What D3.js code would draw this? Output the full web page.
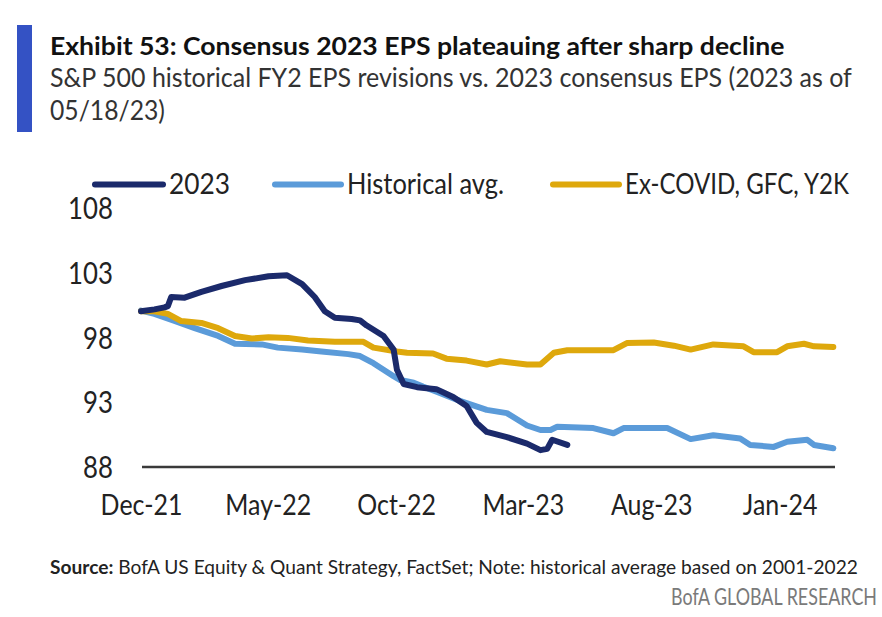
<!DOCTYPE html>
<html>
<head>
<meta charset="utf-8">
<script src="https://cdn.jsdelivr.net/npm/d3@7"></script>
<style>
  html, body { margin: 0; padding: 0; background: #fff; }
  svg { display: block; font-family: Lato, "Open Sans", "DejaVu Sans", sans-serif; }
</style>
</head>
<body>
<svg id="chart" width="882" height="617"></svg>
<script>
// ---------- data ----------
const seriesNames = ["2023", "Historical avg.", "Ex-COVID, GFC, Y2K"];

const dates2023 = ["2021-12-01","2021-12-17","2021-12-29","2022-01-02","2022-01-06","2022-01-22","2022-02-11","2022-03-07","2022-04-04","2022-05-02","2022-05-24","2022-06-11","2022-06-26","2022-07-08","2022-07-20","2022-08-09","2022-08-19","2022-08-27","2022-09-16","2022-09-28","2022-10-02","2022-10-10","2022-10-26","2022-11-18","2022-12-08","2022-12-24","2023-01-05","2023-01-17","2023-02-10","2023-03-06","2023-03-22","2023-03-30","2023-04-05","2023-04-23"];
const values2023 = [100.0,100.15,100.3,100.4,101.1,101.05,101.5,101.95,102.4,102.7,102.78,102.1,101.1,100.0,99.5,99.4,99.3,98.9,98.1,97.05,95.5,94.4,94.15,94.0,93.4,92.7,91.4,90.7,90.3,89.8,89.3,89.4,90.1,89.7];

const datesHist = ["2021-12-01","2021-12-17","2022-01-10","2022-02-03","2022-03-03","2022-03-23","2022-04-24","2022-05-13","2022-06-11","2022-07-04","2022-08-05","2022-08-19","2022-09-04","2022-09-16","2022-09-28","2022-10-06","2022-10-22","2022-11-02","2022-11-22","2022-12-16","2023-01-17","2023-02-10","2023-03-06","2023-03-22","2023-04-03","2023-04-11","2023-05-24","2023-06-17","2023-06-29","2023-08-20","2023-09-17","2023-10-14","2023-11-15","2023-11-27","2023-12-25","2024-01-10","2024-02-03","2024-02-11","2024-03-05"];
const valuesHist = [100.05,99.8,99.25,98.7,98.1,97.5,97.45,97.2,97.05,96.9,96.7,96.55,96.0,95.5,95.0,94.7,94.5,94.2,93.7,93.1,92.4,92.15,91.2,90.85,90.85,91.1,91.0,90.6,91.0,91.0,90.15,90.45,90.2,89.7,89.55,89.95,90.1,89.7,89.45];

const datesExCovid = ["2021-12-01","2021-12-17","2022-01-02","2022-01-18","2022-02-11","2022-03-03","2022-03-23","2022-04-12","2022-05-02","2022-05-25","2022-06-18","2022-07-20","2022-08-15","2022-08-23","2022-09-04","2022-10-02","2022-10-14","2022-11-14","2022-11-30","2022-12-24","2023-01-17","2023-02-02","2023-03-06","2023-03-22","2023-04-07","2023-04-23","2023-06-17","2023-07-03","2023-08-04","2023-08-28","2023-09-17","2023-10-14","2023-11-19","2023-12-01","2023-12-29","2024-01-10","2024-01-30","2024-02-11","2024-03-05"];
const valuesExCovid = [100.0,100.0,99.8,99.25,99.1,98.7,98.1,97.9,98.0,97.95,97.75,97.65,97.65,97.65,97.2,96.9,96.8,96.75,96.35,96.2,95.9,96.15,95.9,95.9,96.8,97.0,97.0,97.55,97.6,97.35,97.05,97.45,97.3,96.85,96.85,97.3,97.5,97.3,97.25];

const yTicks = [88, 93, 98, 103, 108];
const xTickDates = ["2021-12-01","2022-05-01","2022-10-01","2023-03-01","2023-08-01","2024-01-01"];
const xDomain = ["2021-12-01", "2024-03-07"];

const titleText = "Exhibit 53: Consensus 2023 EPS plateauing after sharp decline";
const subLine1 = "S&P 500 historical FY2 EPS revisions vs. 2023 consensus EPS (2023 as of";
const subLine2 = "05/18/23)";
const sourceLabel = "Source:";
const sourceText = " BofA US Equity & Quant Strategy, FactSet; Note: historical average based on 2001-2022";
const brandText = "BofA GLOBAL RESEARCH";

// ---------- setup ----------
const parse = d3.timeParse("%Y-%m-%d");
const svg = d3.select("#chart");
const colors = ["#1b2a6b", "#5b9bd9", "#dea80c"];

const x = d3.scaleTime().domain(xDomain.map(parse)).range([141, 835]);
const y = d3.scaleLinear().domain([88, 108]).range([467, 207.5]);

// place a text at (px,py) and squeeze it horizontally to a target width
function narrowText(px, py, width, anchor, build) {
  const g = svg.append("g");
  const t = g.append("text").attr("text-anchor", anchor || "start");
  build(t);
  const n = t.node().getComputedTextLength();
  const k = n > 0 ? width / n : 1;
  g.attr("transform", `translate(${px},${py}) scale(${k},1)`);
  return t;
}
function squeeze(sel, k) { sel.attr("transform", `scale(${k},1)`); }

// header bar
svg.append("rect").attr("x", 17).attr("y", 25).attr("width", 15).attr("height", 107).attr("fill", "#3452c4");

narrowText(50, 55, 735, "start", t => t.attr("font-size", 24).attr("font-weight", 700).attr("fill", "#111").text(titleText));
narrowText(50, 87, 802, "start", t => t.attr("font-size", 26.5).attr("fill", "#333").text(subLine1));
narrowText(50, 120, 115, "start", t => t.attr("font-size", 26.5).attr("fill", "#333").text(subLine2));

// legend
const legendItems = [
  {name: seriesNames[0], x1: 95, x2: 163, tx: 169, w: 61},
  {name: seriesNames[1], x1: 275, x2: 341, tx: 347, w: 157},
  {name: seriesNames[2], x1: 553, x2: 619, tx: 625, w: 224}
];
legendItems.forEach((d, i) => {
  svg.append("line").attr("x1", d.x1).attr("x2", d.x2).attr("y1", 184.5).attr("y2", 184.5)
    .attr("stroke", colors[i]).attr("stroke-width", 6).attr("stroke-linecap", "round");
  narrowText(d.tx, 193.5, d.w, "start", t => t.attr("font-size", 29).attr("fill", "#222").text(d.name));
});

// y axis labels
const yAxis = d3.axisLeft(y).tickValues(yTicks).tickSize(0).tickPadding(0);
const gy = svg.append("g").attr("transform", "translate(113,0)").call(yAxis);
gy.select(".domain").remove();
gy.selectAll("text").attr("font-size", 30).attr("fill", "#222").attr("font-family", "Lato, 'Open Sans', sans-serif")
  .attr("dy", "0.36em").call(squeeze, 0.86);

// x axis
const xAxis = d3.axisBottom(x).tickValues(xTickDates.map(parse)).tickFormat(d3.timeFormat("%b-%y")).tickSize(0).tickPadding(0);
const gx = svg.append("g").attr("transform", "translate(0,467)").call(xAxis);
gx.select(".domain").remove();
gx.selectAll("text").attr("font-size", 29).attr("fill", "#222").attr("font-family", "Lato, 'Open Sans', sans-serif")
  .attr("dy", 0).attr("y", 48).call(squeeze, 0.86);

svg.append("line").attr("x1", x.range()[0] + 1).attr("x2", x.range()[1]).attr("y1", y(88)).attr("y2", y(88))
  .attr("stroke", "#3a3a3a").attr("stroke-width", 2.5);

// lines
const line = d3.line().x(d => x(d[0])).y(d => y(d[1]));
const series = [
  {dates: datesHist, values: valuesHist, color: colors[1]},
  {dates: datesExCovid, values: valuesExCovid, color: colors[2]},
  {dates: dates2023, values: values2023, color: colors[0]}
];
series.forEach(s => {
  const pts = s.dates.map((d, i) => [parse(d), s.values[i]]);
  svg.append("path").datum(pts).attr("d", line).attr("fill", "none")
    .attr("stroke", s.color).attr("stroke-width", 6)
    .attr("stroke-linejoin", "round").attr("stroke-linecap", "round");
});

// source
narrowText(50, 574, 808, "start", t => {
  t.attr("font-size", 19.5).attr("fill", "#222");
  t.append("tspan").attr("font-weight", 700).text(sourceLabel);
  t.append("tspan").text(sourceText);
});

narrowText(877, 605, 206, "end", t => t.attr("font-size", 23).attr("fill", "#7a7a7a").text(brandText));
</script>
</body>
</html>
